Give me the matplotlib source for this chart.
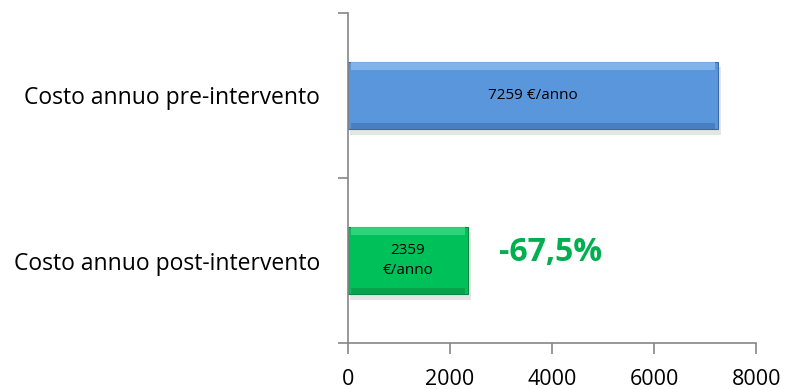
import matplotlib.pyplot as plt

categorie = ["Costo annuo post-intervento", "Costo annuo pre-intervento"]
valori = [2359, 7259]
etichette = ["2359\n€/anno", "7259 €/anno"]
riduzione = "-67,5%"

colori = ["#00C05A", "#5A96DC"]
chiari = ["#3CD884", "#8CBCF0"]
scuri = ["#0A8A40", "#3A6AA8"]

plt.rcParams['font.family'] = ['Open Sans', 'DejaVu Sans']

fig = plt.figure(figsize=(7.87, 3.89), dpi=100)
ax = fig.add_axes([0.442, 0.118, 0.519, 0.849])

h = 0.41
pos = list(range(len(categorie)))
for i in pos:
    # ombra
    ax.barh(i - 0.035, valori[i], height=h, left=50, color="#000000", alpha=0.10, zorder=1)
    ax.barh(i, valori[i], height=h, color=colori[i], edgecolor=scuri[i], linewidth=0.8, zorder=2)
    # effetto smussato
    ax.barh(i + h / 2 - 0.025, valori[i] - 120, height=0.05, left=60, color=chiari[i], alpha=0.8, zorder=2.5)
    ax.barh(i - h / 2 + 0.02, valori[i] - 120, height=0.04, left=60, color=scuri[i], alpha=0.5, zorder=2.5)
    ax.text(valori[i] / 2, i, etichette[i], ha='center', va='center', fontsize=11,
            color='black', zorder=3, linespacing=1.5)

ax.text(3980, 0.05, riduzione, ha='center', va='center', fontsize=23,
        fontweight='bold', color='#00B050')

ax.set_xlim(0, 8000)
ax.set_ylim(-0.5, 1.5)
ax.set_xticks([0, 2000, 4000, 6000, 8000])
ax.set_yticks(pos)
ax.set_yticklabels(categorie)
ax.set_yticks([-0.5, 0.5, 1.5], minor=True)
ax.tick_params(axis='y', which='major', length=0, pad=20, labelsize=16.5)
ax.tick_params(axis='y', which='minor', length=7, color='#868686', width=1.2, direction='out')
ax.tick_params(axis='x', length=8, color='#868686', width=1.2, direction='out', labelsize=15.5, pad=11)

for s in ['top', 'right']:
    ax.spines[s].set_visible(False)
for s in ['left', 'bottom']:
    ax.spines[s].set_color('#868686')
    ax.spines[s].set_linewidth(1.2)

fig.savefig("out.png", dpi=100)
